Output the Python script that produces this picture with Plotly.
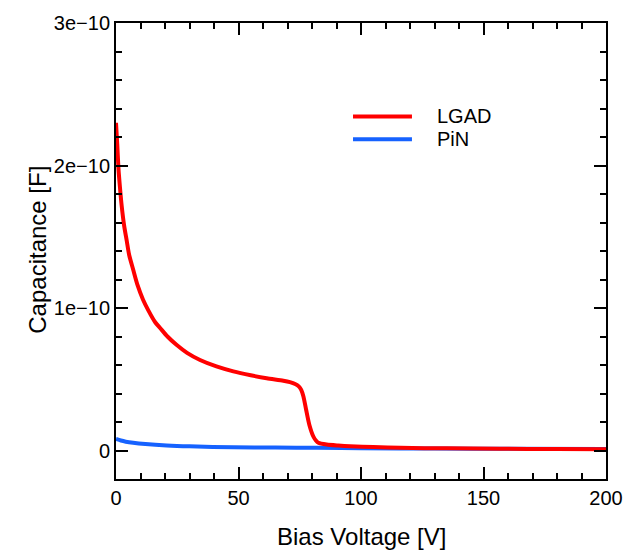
import plotly.graph_objects as go

# Bias voltage [V] and capacitance [pF] for the LGAD sensor
lgad_v = [0, 0.5, 1.0, 1.6, 2.3, 3.3, 4.4, 5.4, 7, 8.8, 11, 13.3, 16, 18, 21, 24.8,
          29, 34.3, 41, 47.9, 55, 61.5, 68.3, 71, 73.1, 74.6, 75.6, 76.5, 77.6,
          78.9, 80.5, 81.6, 82.6, 86, 90.7, 95.5, 105, 116, 135, 156.7, 180, 200]
lgad_c_pf = [230, 215, 198, 185, 172, 158, 147, 137, 127, 116, 106, 98, 90, 86, 80, 74,
             68.5, 63.5, 59, 55.5, 52.8, 50.7, 49, 48, 46.7, 45, 42.5, 37.9, 28.6,
             18.1, 10, 7, 5.4, 4.2, 3.5, 3.0, 2.5, 1.9, 1.5, 1.2, 1.0, 0.8]

# Bias voltage [V] and capacitance [pF] for the PiN sensor
pin_v = [0, 2, 4, 7, 12, 20.7, 30, 48, 65, 82, 100, 130, 160, 200]
pin_c_pf = [8.1, 7.0, 6.2, 5.4, 4.5, 3.5, 2.9, 2.3, 2.1, 1.9, 1.6, 1.4, 1.2, 1.0]

series_names = ["LGAD", "PiN"]
series_colors = ["#ff0000", "#1662ff"]

y_tickvals = [0, 1e-10, 2e-10, 3e-10]
y_ticktext = ["0", "1e\u221210", "2e\u221210", "3e\u221210"]
x_tickvals = [0, 50, 100, 150, 200]

FONT = "Liberation Sans, Arial, sans-serif"

fig = go.Figure()
fig.add_trace(go.Scatter(
    x=pin_v, y=[c * 1e-12 for c in pin_c_pf], name=series_names[1], mode="lines",
    line=dict(color=series_colors[1], width=4, shape="spline", smoothing=0.8),
    showlegend=False))
fig.add_trace(go.Scatter(
    x=lgad_v, y=[c * 1e-12 for c in lgad_c_pf], name=series_names[0], mode="lines",
    line=dict(color=series_colors[0], width=4, shape="spline", smoothing=0.7),
    showlegend=False))

axis_common = dict(
    showline=True, linecolor="black", linewidth=2, mirror="ticks",
    ticks="inside", ticklen=12, tickwidth=1.5, tickcolor="black",
    showgrid=False, zeroline=False,
    tickfont=dict(family=FONT, size=20, color="black"),
)

fig.update_xaxes(
    range=[0, 200], tickvals=x_tickvals,
    minor=dict(dtick=10, tick0=0, ticks="inside", ticklen=6, tickwidth=1.5,
               tickcolor="black", showgrid=False),
    **axis_common)
fig.update_yaxes(
    range=[-2e-11, 3e-10], tickvals=y_tickvals, ticktext=y_ticktext,
    minor=dict(dtick=2e-11, tick0=0, ticks="inside", ticklen=6, tickwidth=1.5,
               tickcolor="black", showgrid=False),
    **axis_common)

# Axis titles
annotations = [
    dict(text="Bias Voltage [V]", x=0.5, y=-0.126, xref="paper", yref="paper",
         xanchor="center", yanchor="middle", showarrow=False,
         font=dict(family=FONT, size=24, color="black")),
    dict(text="Capacitance [F]", x=-0.159, y=0.503, xref="paper", yref="paper",
         xanchor="center", yanchor="middle", textangle=-90, showarrow=False,
         font=dict(family=FONT, size=24, color="black")),
]

# Legend drawn as line samples with labels
shapes = []
legend_y = [0.795, 0.745]
for name, color, ly in zip(series_names, series_colors, legend_y):
    shapes.append(dict(type="line", xref="paper", yref="paper",
                       x0=0.4837, x1=0.604, y0=ly, y1=ly,
                       line=dict(color=color, width=4)))
    annotations.append(dict(text=name, x=0.651, y=ly, xref="paper", yref="paper",
                            xanchor="left", yanchor="middle", showarrow=False,
                            font=dict(family=FONT, size=20, color="black")))

fig.update_layout(
    width=641, height=551,
    margin=dict(l=116, r=35, t=20, b=72),
    paper_bgcolor="white", plot_bgcolor="white",
    annotations=annotations, shapes=shapes,
    font=dict(family=FONT, color="black"),
)

fig.write_html("out.html")
